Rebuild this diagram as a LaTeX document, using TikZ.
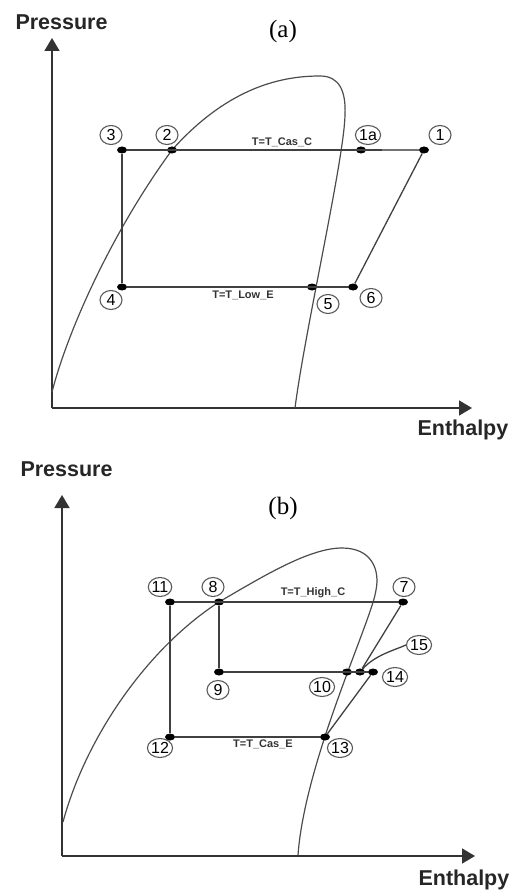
\documentclass[tikz,border=0pt]{standalone}
\usepackage{fontspec}
\setmainfont{Liberation Sans}
\newfontfamily\capfont{Liberation Serif}
\usetikzlibrary{arrows.meta,shapes.geometric}

\begin{document}
\begin{tikzpicture}[
    x=1pt,y=-1pt,
    line/.style={draw=black!75,line width=1.3pt},
    dome/.style={draw=black!70,line width=1.2pt},
    axis/.style={draw=black!80,line width=1.6pt,-{Triangle[length=13pt,width=15pt]}},
    pt/.style={ellipse,fill=black,inner sep=0pt,minimum width=10pt,minimum height=7pt},
    num/.style={ellipse,draw=black!65,line width=1.1pt,inner sep=0pt,minimum width=22pt,minimum height=19pt,font=\fontsize{16}{16}\selectfont},
    tlabel/.style={font=\fontsize{11}{11}\selectfont\bfseries,text=black!80},
    axlabel/.style={font=\fontsize{21.5}{22}\selectfont\bfseries,text=black!85,anchor=base west},
    caption/.style={font=\fontsize{25}{25}\selectfont\capfont,anchor=base},
  ]
  \useasboundingbox (0,0) rectangle (511,890);

  % (a)
  \node[axlabel] (pa) at (12,30) {Pressure};
  \node[caption] (ca) at (283,38) {(a)};
  \node[axlabel] (ha) at (414,435) {Enthalpy};
  \coordinate (oa) at (52,408);
  \coordinate (ya) at (52,38);
  \coordinate (xa) at (472,408);
  \draw[axis] (oa) -- (ya);
  \draw[axis] (oa) -- (xa);
  \draw[dome] (52,392) .. controls (68,330) and (112,232) .. (172,150)
    .. controls (230,85) and (285,76) .. (320,76)
    .. controls (340,76) and (346,92) .. (345,115)
    .. controls (344,160) and (305,330) .. (295,408);

  \node[pt] (p3) at (122,150) {};
  \node[pt] (p2) at (172,150) {};
  \node[pt] (p1a) at (361,150) {};
  \node[pt] (p1) at (424,150) {};
  \node[pt] (p4) at (122,287) {};
  \node[pt] (p5) at (312,287) {};
  \node[pt] (p6) at (353,287) {};
  \node[num] (l3) at (111,135) {3};
  \node[num] (l2) at (167,135) {2};
  \node[num] (l1a) at (368,135) {1a};
  \node[num] (l1) at (440,135) {1};
  \node[num] (l4) at (111,300) {4};
  \node[num] (l5) at (328,304) {5};
  \node[num] (l6) at (371,298) {6};
  \node[tlabel] (ta) at (282,142) {T=T\_Cas\_C};
  \node[tlabel] (tb) at (243,295) {T=T\_Low\_E};
  \draw[line] (p3) -- (p1);
  \draw[draw=black!55,line width=2.6pt] ([xshift=21pt]p1a.center) -- (p1);
  \draw[line] (p3) -- (p4);
  \draw[line] (p4) -- (p6);
  \draw[line] (p1) -- (p6);

  % (b)
  \node[axlabel] (pb) at (17,476) {Pressure};
  \node[caption] (cb) at (283,514) {(b)};
  \node[axlabel] (hb) at (415,885) {Enthalpy};
  \coordinate (ob) at (62,856);
  \coordinate (yb) at (62,495);
  \coordinate (xb) at (475,856);
  \draw[axis] (ob) -- (yb);
  \draw[axis] (ob) -- (xb);
  \draw[dome] (63,822) .. controls (85,740) and (145,650) .. (219,602)
    .. controls (265,575) and (310,548) .. (342,548)
    .. controls (372,548) and (380,570) .. (376,590)
    .. controls (372,620) and (305,760) .. (298,855);

  \node[pt] (p11) at (170,602) {};
  \node[pt] (p8) at (219,602) {};
  \node[pt] (p7) at (403,602) {};
  \node[pt] (p9) at (219,672) {};
  \node[pt] (p10) at (347,672) {};
  \node[pt] (p15) at (360,672) {};
  \node[pt] (p14) at (373,672) {};
  \node[pt] (p12) at (170,737) {};
  \node[pt] (p13) at (325,737) {};
  \node[num] (l11) at (160,587) {11};
  \node[num] (l8) at (213,587) {8};
  \node[num] (l7) at (404,587) {7};
  \node[num] (l9) at (218,690) {9};
  \node[num] (l10) at (322,687) {10};
  \node[num] (l14) at (395,677) {14};
  \node[num] (l15) at (419,645) {15};
  \node[num] (l12) at (160,748) {12};
  \node[num] (l13) at (340,748) {13};
  \node[tlabel] (tc) at (313,593) {T=T\_High\_C};
  \node[tlabel] (td) at (263,744) {T=T\_Cas\_E};
  \draw[line] (p11) -- (p7);
  \draw[line] (p11) -- (p12);
  \draw[line] (p8) -- (p9);
  \draw[line] (p9) -- (p14);
  \draw[line] (p12) -- (p13);
  \draw[line] (p7) -- (p15);
  \draw[line] (p13) -- (p14);
  \draw[line] (l15.west) .. controls (395,650) and (375,655) .. (p15);
\end{tikzpicture}
\end{document}
